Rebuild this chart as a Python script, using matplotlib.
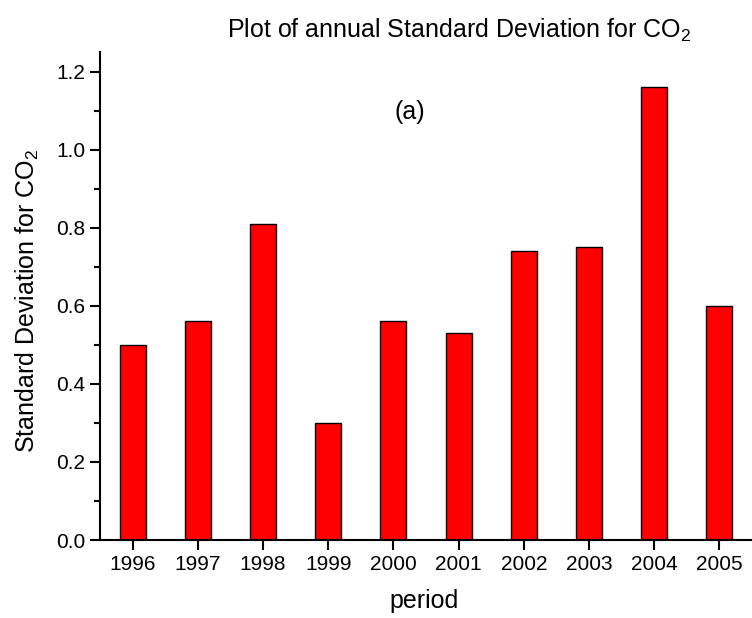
import matplotlib
matplotlib.use("Agg")
import matplotlib.pyplot as plt
from matplotlib.ticker import MultipleLocator

years = [1996, 1997, 1998, 1999, 2000, 2001, 2002, 2003, 2004, 2005]
std_dev = [0.50, 0.56, 0.81, 0.30, 0.56, 0.53, 0.74, 0.75, 1.16, 0.60]
ytick_vals = [0.0, 0.2, 0.4, 0.6, 0.8, 1.0, 1.2]

plt.rcParams['font.family'] = ['Liberation Sans', 'DejaVu Sans']
plt.rcParams['mathtext.fontset'] = 'custom'
plt.rcParams['mathtext.rm'] = 'Liberation Sans'
plt.rcParams['mathtext.default'] = 'regular'

fig = plt.figure(figsize=(7.52, 6.18), dpi=100)
ax = fig.add_axes([100/752, 78/618, 652/752, 488/618])

ax.bar(years, std_dev, width=0.4, color='#ff0000', edgecolor='black', linewidth=1.0)

ax.set_xlim(1995.5, 2005.5)
ax.set_ylim(0, 1.25)
ax.set_xticks(years)
ax.set_xticklabels([str(y) for y in years])
ax.set_yticks(ytick_vals)
ax.set_yticklabels([f"{v:.1f}" for v in ytick_vals])
ax.yaxis.set_minor_locator(MultipleLocator(0.1))

for s in ['top', 'right']:
    ax.spines[s].set_visible(False)
for s in ['left', 'bottom']:
    ax.spines[s].set_linewidth(1.5)

ax.tick_params(axis='both', which='major', direction='out', length=7, width=1.5, labelsize=15)
ax.tick_params(axis='y', which='minor', direction='out', length=4, width=1.5)

ax.set_xlabel('period', fontsize=18)
ax.xaxis.set_label_coords(0.497, -0.100)
ax.set_ylabel('Standard Deviation for CO$_2$', fontsize=18)
ax.yaxis.set_label_coords(-0.090, 0.49)

ax.text(2000.25, 1.097, '(a)', fontsize=18, ha='center', va='center')

fig.text(459/752, 1 - 30/618, 'Plot of annual Standard Deviation for CO$_2$',
         fontsize=18, ha='center', va='center')

fig.savefig('out.png', dpi=100)
